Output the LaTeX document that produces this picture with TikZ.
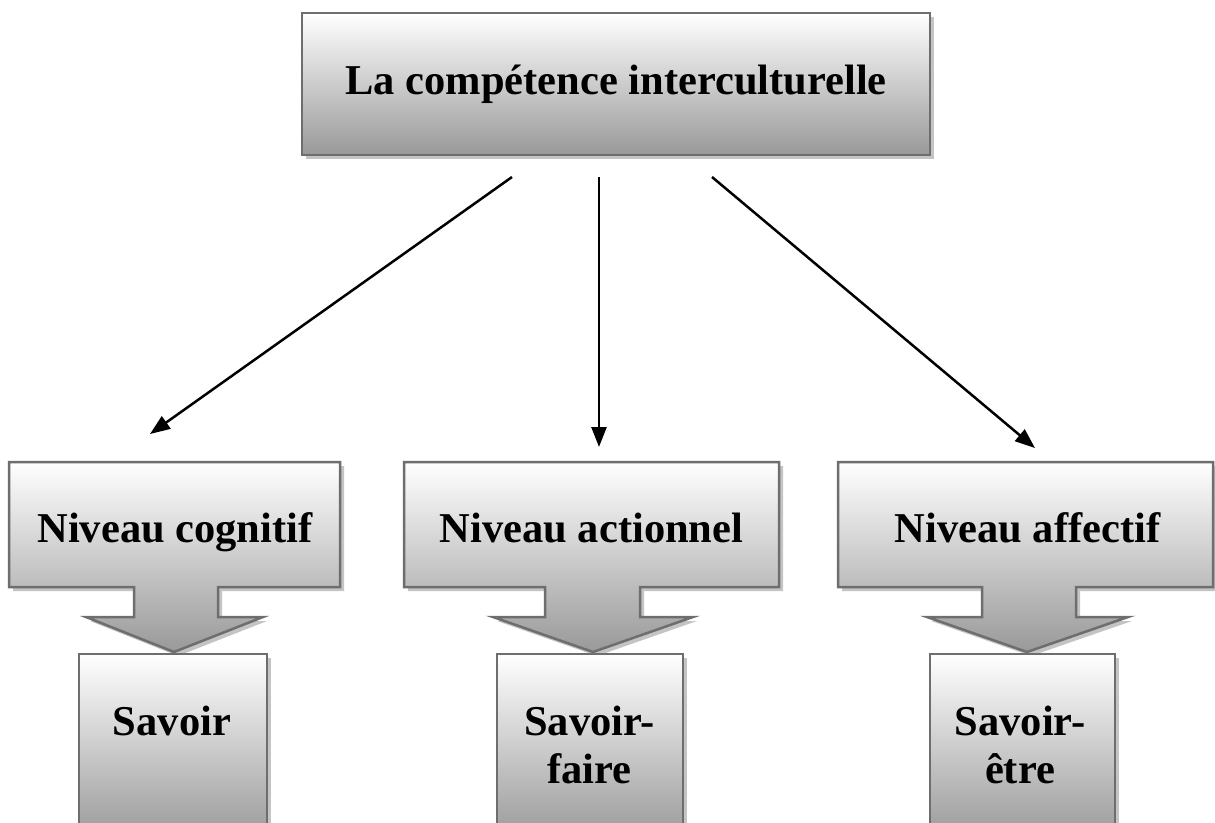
\documentclass[tikz,border=0pt]{standalone}
\usepackage{fontspec}
\setmainfont{Liberation Serif}
\usetikzlibrary{arrows.meta,shadows}

\definecolor{edgegray}{HTML}{6E6E6E}
\definecolor{shadegray}{HTML}{999999}
\definecolor{shadowgray}{HTML}{C4C4C4}

\tikzset{
  boxfill/.style={top color=white, bottom color=shadegray, draw=edgegray, line width=2.5pt},
  lbl/.style={font=\fontsize{42.5pt}{48pt}\selectfont\bfseries, inner sep=0pt, align=center},
  link/.style={line width=2.5pt, -{Triangle[length=20pt,width=15pt]}}
}

% level box with its downward arrow: x-left, x-right, stem-left, stem-right,
% wing-left, wing-right, tip-x
\newcommand{\levelshape}[7]{%
  \fill[shadowgray, shift={(4,4)}] (#1,462) -- (#2,462) -- (#2,587) -- (#4,587) -- (#4,617)
    -- (#6,617) -- (#7,652) -- (#5,617) -- (#3,617) -- (#3,587) -- (#1,587) -- cycle;
  \path[boxfill] (#1,462) -- (#2,462) -- (#2,587) -- (#4,587) -- (#4,617)
    -- (#6,617) -- (#7,652) -- (#5,617) -- (#3,617) -- (#3,587) -- (#1,587) -- cycle;
}

\begin{document}
\begin{tikzpicture}[x=1pt, y=-1pt]
  \useasboundingbox[fill=white] (0,0) rectangle (1215,822);

  % main concept
  \node[boxfill, lbl, minimum width=628pt, minimum height=142pt,
        drop shadow={shadow xshift=4pt, shadow yshift=-4pt, fill=shadowgray, opacity=1}]
        (comp) at (616,84) {La compétence interculturelle};

  % the three levels
  \levelshape{9}{340}{134}{218}{86}{263}{174}
  \levelshape{404}{779}{545}{640}{493}{693}{593}
  \levelshape{838}{1213}{982}{1076}{927}{1128}{1027}

  % outcome boxes (running past the lower edge)
  \fill[shadowgray] (83,658) rectangle (271,844);
  \path[boxfill] (79,654) rectangle (267,840);
  \fill[shadowgray] (501,658) rectangle (687,844);
  \path[boxfill] (497,654) rectangle (683,840);
  \fill[shadowgray] (934,658) rectangle (1119,844);
  \path[boxfill] (930,654) rectangle (1115,840);

  \node[lbl, anchor=base] (cog) at (175,542) {Niveau cognitif};
  \node[lbl, anchor=base] (act) at (591.5,542) {Niveau actionnel};
  \node[lbl, anchor=base] (aff) at (1027.5,542) {Niveau affectif};

  % the base of a two-line label is the baseline of its last line
  \node[lbl, anchor=base] (sav) at (172,735) {Savoir};
  \node[lbl, anchor=base] (savf) at (589.5,783) {Savoir-\\faire};
  \node[lbl, anchor=base] (save) at (1020,783) {Savoir-\\être};

  % connectors from the main concept to each level
  \coordinate (l1) at (512,177);
  \coordinate (l2) at (599,177);
  \coordinate (l3) at (712,177);
  \coordinate (t1) at (150,434);
  \coordinate (t2) at (599,447);
  \coordinate (t3) at (1035,448);
  \draw[link] (l1) -- (t1);
  \draw[link] (l2) -- (t2);
  \draw[link] (l3) -- (t3);
\end{tikzpicture}
\end{document}
